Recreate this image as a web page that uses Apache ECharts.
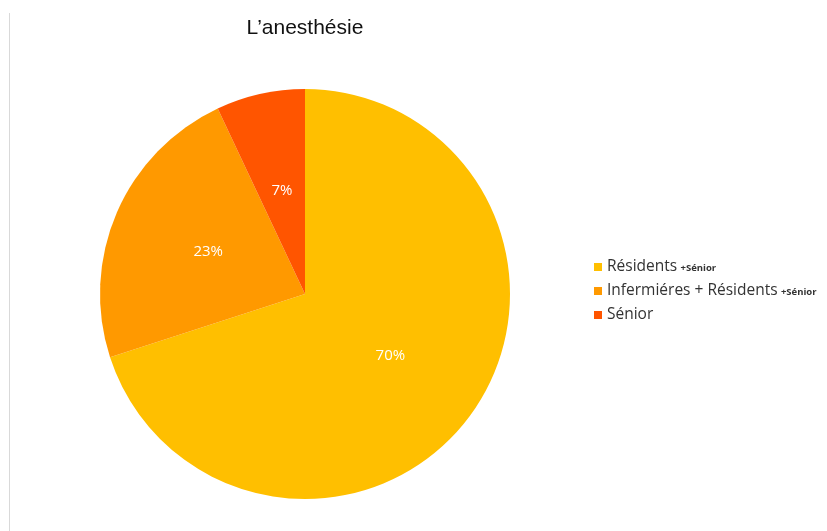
<!DOCTYPE html>
<html><head><meta charset="utf-8">
<script src="https://cdn.jsdelivr.net/npm/echarts@6/dist/echarts.min.js"></script>
<style>html,body{margin:0;padding:0;background:#fff}#c{width:827px;height:531px}</style>
</head><body><div id="c"></div>
<script>
const categories = ['Résidents +Sénior', 'Infermiéres + Résidents +Sénior', 'Sénior'];
const legendMain = ['Résidents', 'Infermiéres + Résidents', 'Sénior'];
const legendSmall = ['+Sénior', '+Sénior', ''];
const values = [70, 23, 7];
const colors = ['#FFBF00', '#FF9900', '#FF5500'];

const chart = echarts.init(document.getElementById('c'));
chart.setOption({
  backgroundColor: '#fff',
  animation: false,
  title: {
    text: 'L\u2019anesthésie', left: 300, top: 13, textAlign: 'center',
    textStyle: { fontFamily: 'Liberation Sans', fontSize: 21, fontWeight: 'normal', color: '#111' }
  },
  graphic: [{ type: 'line', shape: { x1: 9.5, y1: 13, x2: 9.5, y2: 531 }, style: { stroke: '#d9d9d9', lineWidth: 1 } }],
  legend: {
    orient: 'vertical', left: 594, top: 259, padding: 0, itemWidth: 8, itemHeight: 8, itemGap: 8,
    icon: 'rect',
    data: categories,
    formatter: function (name) {
      const i = categories.indexOf(name);
      return '{a|' + legendMain[i] + '}' + (legendSmall[i] ? ' {b|' + legendSmall[i] + '}' : '');
    },
    textStyle: {
      rich: {
        a: { fontFamily: 'Open Sans', fontSize: 15.5, color: '#333', height: 18 },
        b: { fontFamily: 'Open Sans', fontSize: 9.5, fontWeight: 'bold', color: '#333', padding: [3, 0, 0, 0] }
      }
    }
  },
  series: [{
    type: 'pie', center: [305, 294], radius: 205, startAngle: 90, clockwise: true,
    label: { position: 'inside', formatter: '{c}%', color: '#fff', fontFamily: 'Open Sans', fontSize: 15 },
    labelLine: { show: false },
    itemStyle: { borderWidth: 0 },
    emphasis: { disabled: true },
    data: categories.map((n, i) => ({ name: n, value: values[i], itemStyle: { color: colors[i] } }))
  }]
});
</script></body></html>
